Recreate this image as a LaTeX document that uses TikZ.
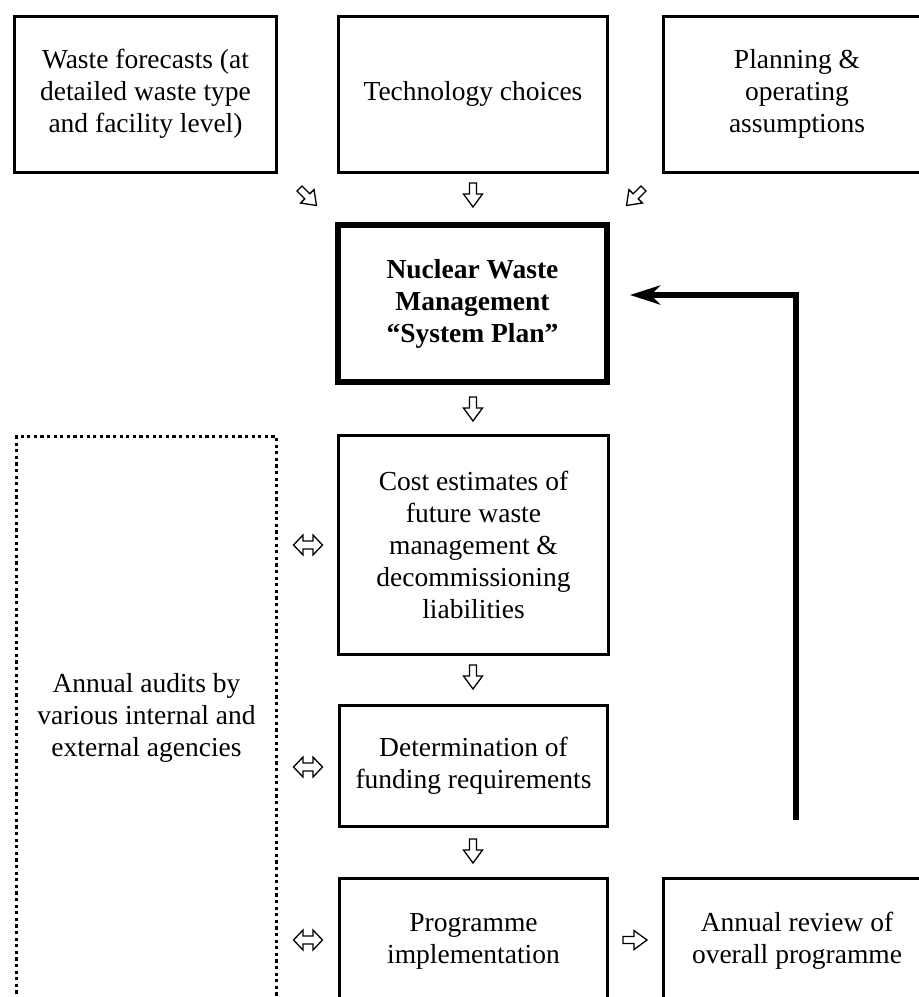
\documentclass[tikz,border=0pt]{standalone}
\usepackage{fontspec}
\setmainfont{Liberation Serif}
\usetikzlibrary{arrows.meta}
\tikzset{
  box/.style={draw, line width=3pt, inner sep=0pt, align=center,
    font=\fontsize{27.5}{32}\selectfont},
  mainbox/.style={box, line width=6pt, font={\fontsize{27.5}{32}\selectfont\bfseries}},
  auditbox/.style={box, dash pattern=on 3.2pt off 3.4pt},
  blk/.style={line width=1.3pt, line join=miter},
  dnarrow/.pic={\draw[blk] (-3.5,12)--(3.5,12)--(3.5,1)--(9.5,1)--(0,-12)--(-9.5,1)--(-3.5,1)--cycle;},
  lrarrow/.pic={\draw[blk] (-14.5,0)--(-5,10)--(-5,4)--(5,4)--(5,10)--(14.5,0)--(5,-10)--(5,-4)--(-5,-4)--(-5,-10)--cycle;},
  feedback/.style={line width=5.5pt, -{Stealth[length=30pt,width=19pt,inset=9pt]}}
}
\begin{document}
\begin{tikzpicture}[x=1pt,y=1pt]
\path[use as bounding box] (0,0) rectangle (919,-997);
\clip (0,0) rectangle (919,-997);

% top row
\node[box, minimum width=262pt, minimum height=156pt] (W) at (145.5,-94)
  {Waste forecasts (at\\detailed waste type\\and facility level)};
\node[box, minimum width=269pt, minimum height=156pt] (T) at (473,-94)
  {Technology choices};
\node[box, minimum width=268pt, minimum height=156pt] (P) at (797,-94)
  {Planning \&\\operating\\assumptions};

% system plan
\node[mainbox, minimum width=269pt, minimum height=157pt] (S) at (472.5,-303.5)
  {Nuclear Waste\\Management\\“System Plan”};

% chain
\node[box, minimum width=270pt, minimum height=219pt] (C) at (473.5,-545)
  {Cost estimates of\\future waste\\management \&\\decommissioning\\liabilities};
\node[box, minimum width=268pt, minimum height=121pt] (D) at (473.5,-766)
  {Determination of\\funding requirements};
\node[box, minimum width=268pt, minimum height=125pt] (G) at (473.5,-941)
  {Programme\\implementation};
\node[box, minimum width=268pt, minimum height=125pt] (A) at (797,-941)
  {Annual review of\\overall programme};

% audits
\node[auditbox, minimum width=260pt, minimum height=563pt] (U) at (146.5,-718)
  {Annual audits by\\various internal and\\external agencies};

% block arrows
\pic[rotate=45] at (308,-197) {dnarrow};
\pic at (473,-195) {dnarrow};
\pic[rotate=-45] at (635,-197) {dnarrow};
\pic at (473,-409) {dnarrow};
\pic at (473,-677) {dnarrow};
\pic at (473,-851) {dnarrow};
\pic at (308,-545) {lrarrow};
\pic at (308,-767) {lrarrow};
\pic at (308,-940) {lrarrow};
\pic[rotate=90] at (635,-940) {dnarrow};

% feedback loop
\coordinate (fb) at (796,-820);
\draw[feedback] (fb) |- ([xshift=20pt,yshift=8.5pt]S.east);
\end{tikzpicture}
\end{document}
